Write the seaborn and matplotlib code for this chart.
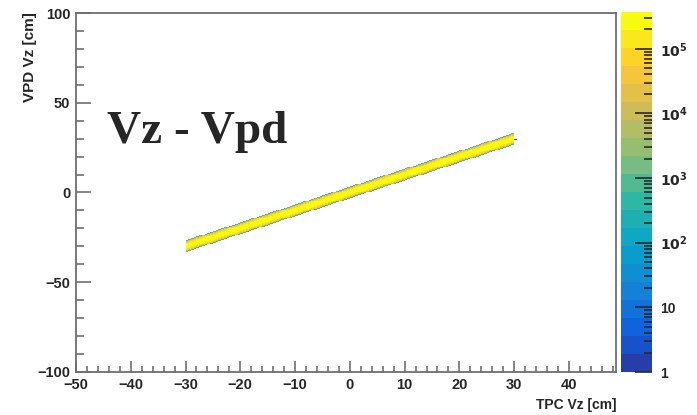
import numpy as np
import pandas as pd
import matplotlib
matplotlib.use("Agg")
import matplotlib.pyplot as plt
import seaborn as sns
from matplotlib.colors import LinearSegmentedColormap, ListedColormap, LogNorm
from matplotlib.ticker import MultipleLocator, LogLocator, FuncFormatter, NullFormatter

# --- data ---------------------------------------------------------------
# TPC vertex bin centres that pass the |Vz| < 30 cm cut (0.5 cm bins)
tpc_first_bin = -29.75
tpc_last_bin = 29.75
bin_width = 0.5
# VPD - TPC residual (cm) and the entries per TPC bin at that residual
residual = [-3.0, -2.5, -2.0, -1.5, -1.0, -0.5, 0.0, 0.5, 1.0, 1.5, 2.0, 2.5, 3.0]
entries = [800, 2.0e4, 9.0e4, 1.8e5, 2.6e5, 3.2e5, 3.5e5, 3.2e5, 2.6e5, 1.8e5, 9.0e4, 2.0e4, 800]
# a lone entry just past the cut
stray_tpc = [30.25]
stray_vpd = [29.75]
stray_entries = [2]

z_min, z_max = 1.0, 3.7e5
n_contours = 20
x_range = (-50.0, 48.6)
y_range = (-100.0, 100.0)

# --- ROOT "kBird" palette, sampled like a 20-level COLZ plot -----------
stops = [0.0, 0.125, 0.25, 0.375, 0.5, 0.625, 0.75, 0.875, 1.0]
red = [0.2082, 0.0592, 0.0780, 0.0232, 0.1802, 0.5301, 0.8186, 0.9956, 0.9764]
green = [0.1664, 0.3599, 0.5041, 0.6419, 0.7178, 0.7492, 0.7328, 0.7862, 0.9832]
blue = [0.5293, 0.8684, 0.8385, 0.7914, 0.6425, 0.4662, 0.3499, 0.1968, 0.0539]
bird = LinearSegmentedColormap.from_list(
    "bird", list(zip(stops, zip(red, green, blue))))
palette = ListedColormap([bird((i + 0.99) / n_contours) for i in range(n_contours)])
norm = LogNorm(vmin=z_min, vmax=z_max)

# --- histogram table ----------------------------------------------------
tpc_bins = np.arange(tpc_first_bin, tpc_last_bin + bin_width / 2, bin_width)
rows = []
for t in tpc_bins:
    for r, n in zip(residual, entries):
        rows.append((t, t + r, n))
for t, v, n in zip(stray_tpc, stray_vpd, stray_entries):
    rows.append((t, v, n))
df = pd.DataFrame(rows, columns=["tpc_vz", "vpd_vz", "entries"])

# --- figure ---------------------------------------------------------------
sns.set_style("white", {"xtick.bottom": True, "ytick.left": True,
                        "ytick.right": True})
plt.rcParams["font.family"] = ["Liberation Sans", "DejaVu Sans"]
plt.rcParams["axes.unicode_minus"] = True

W, H = 697, 415
fig = plt.figure(figsize=(W / 100, H / 100), dpi=100)
ax = fig.add_axes([76 / W, 1 - 371.5 / H, (616 - 76) / W, (371.5 - 13.5) / H])
cax = fig.add_axes([621 / W, 1 - 372 / H, 31 / W, (372 - 12) / H])

sns.histplot(data=df, x="tpc_vz", y="vpd_vz", weights="entries",
             binwidth=bin_width, binrange=((-50, 50), (-100, 100)),
             cmap=palette, cbar=False, ax=ax)
mesh = ax.collections[0]
mesh.set_cmap(palette)
mesh.set_norm(norm)

ax.set_xlim(*x_range)
ax.set_ylim(*y_range)
ax.set_axisbelow(False)

frame_col = "#6e6e6e"
for s in ax.spines.values():
    s.set_visible(True)
    s.set_color(frame_col)
    s.set_linewidth(1.3)

ax.xaxis.set_major_locator(MultipleLocator(10))
ax.xaxis.set_minor_locator(MultipleLocator(2))
ax.yaxis.set_major_locator(MultipleLocator(50))
ax.yaxis.set_minor_locator(MultipleLocator(10))
ax.tick_params(which="both", direction="in", bottom=True, left=True,
               top=False, right=False, color=frame_col, width=1.2)
ax.tick_params(axis="x", which="major", length=8, pad=5)
ax.tick_params(axis="x", which="minor", length=4)
ax.tick_params(axis="y", which="major", length=11, pad=4)
ax.tick_params(axis="y", which="minor", length=5.5)
for lab in ax.get_xticklabels() + ax.get_yticklabels():
    lab.set_fontsize(10.5)
    lab.set_fontweight("bold")

ax.set_xlabel("")
ax.set_ylabel("")
fig.text(616 / W, 1 - 405 / H, "TPC Vz [cm]", ha="right", va="center",
         fontsize=10, fontweight="bold")
fig.text(30 / W, 1 - 12 / H, "VPD Vz [cm]", ha="center", va="top",
         rotation=90, fontsize=11, fontweight="bold")

fig.text(107 / W, 1 - 143 / H, "Vz - Vpd", ha="left", va="baseline",
         fontsize=34, fontweight="bold",
         family=["Liberation Serif", "DejaVu Serif"])

# --- colour scale ---------------------------------------------------------
cb = fig.colorbar(plt.cm.ScalarMappable(norm=norm, cmap=palette), cax=cax)
cb.outline.set_visible(False)
cax.set_axisbelow(False)
cax.set_ylim(z_min, z_max)
cax.yaxis.set_ticks_position("right")
cax.yaxis.set_major_locator(LogLocator(base=10, numticks=10))
cax.yaxis.set_minor_locator(LogLocator(base=10, subs=np.arange(2, 10), numticks=20))
cax.yaxis.set_minor_formatter(NullFormatter())


def decade_label(v, _pos):
    e = int(round(np.log10(v)))
    if e == 0:
        return "1"
    if e == 1:
        return "10"
    return r"$\mathbf{10^{%d}}$" % e


cax.yaxis.set_major_formatter(FuncFormatter(decade_label))
cax.tick_params(which="both", direction="in", right=True, left=False,
                color="#2a2a2a", width=1.2)
cax.tick_params(which="major", length=12, pad=6)
cax.tick_params(which="minor", length=6)
for lab in cax.get_yticklabels():
    lab.set_fontsize(10)
    lab.set_fontweight("bold")

fig.savefig("out.png", dpi=100)
